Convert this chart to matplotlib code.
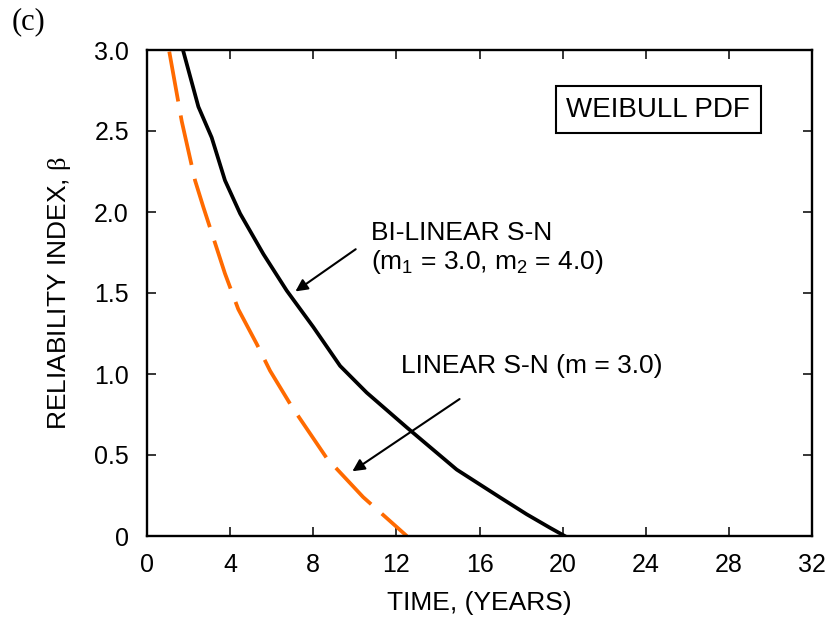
import numpy as np
import matplotlib
matplotlib.use("Agg")
from matplotlib import pyplot as plt

plt.rcParams['font.family'] = ['Liberation Sans', 'DejaVu Sans']
plt.rcParams['mathtext.fontset'] = 'custom'
plt.rcParams['mathtext.rm'] = 'Liberation Sans'
plt.rcParams['mathtext.it'] = 'Liberation Sans:italic'
plt.rcParams['mathtext.sf'] = 'Liberation Serif'

# --- data ---
bilinear_t = [1.75, 2.47, 3.11, 3.75, 4.48, 5.6, 6.72, 8.0, 9.29, 10.57, 12.5, 14.9, 17.0, 18.27, 19.4, 20.1]
bilinear_beta = [2.99, 2.65, 2.46, 2.195, 1.99, 1.74, 1.515, 1.29, 1.05, 0.885, 0.67, 0.41, 0.237, 0.134, 0.05, 0.0]

linear_t = [1.07, 1.67, 2.31, 2.71, 3.75, 4.39, 5.28, 5.92, 6.96, 8.65, 10.4, 12.5]
linear_beta = [2.99, 2.56, 2.195, 2.03, 1.62, 1.40, 1.185, 1.02, 0.80, 0.48, 0.24, 0.0]

x_ticks = [0, 4, 8, 12, 16, 20, 24, 28, 32]
y_ticks = [0, 0.5, 1.0, 1.5, 2.0, 2.5, 3.0]
y_labels = ["0", "0.5", "1.0", "1.5", "2.0", "2.5", "3.0"]

fig = plt.figure(figsize=(8.27, 6.25), dpi=100)
ax = fig.add_axes([0.1778, 0.1424, 0.8041, 0.7776])

ax.plot(bilinear_t, bilinear_beta, color='black', lw=2.7, solid_joinstyle='round')
ax.plot(linear_t, linear_beta, color='#ff6a00', lw=2.7, dashes=(13.5, 3.8))

ax.set_xlim(0, 32)
ax.set_ylim(0, 3.0)
ax.set_xticks(x_ticks)
ax.set_yticks(y_ticks)
ax.set_yticklabels(y_labels)
ax.tick_params(direction='in', length=6.5, width=1.1, top=True, right=True,
               labelsize=18)
ax.tick_params(axis='x', pad=12)
ax.tick_params(axis='y', pad=13)
for s in ax.spines.values():
    s.set_linewidth(1.7)

ax.set_xlabel("TIME, (YEARS)", fontsize=19)
ax.set_ylabel(r"RELIABILITY INDEX, $\mathsf{\beta}$", fontsize=19)
ax.xaxis.set_label_coords(0.5, -0.113)
ax.yaxis.set_label_coords(-0.112, 0.5)

# WEIBULL PDF box
ax.text(24.6, 2.63, "WEIBULL PDF", fontsize=20, ha='center', va='center',
        bbox=dict(boxstyle='square,pad=0.38', fc='white', ec='black', lw=1.5))

# annotations
ax.text(10.8, 1.87, "BI-LINEAR S-N", fontsize=19, ha='left', va='center')
ax.text(10.8, 1.69, r"(m$_1$ = 3.0, m$_2$ = 4.0)", fontsize=19, ha='left', va='center')
ax.annotate("", xy=(7.03, 1.50), xytext=(10.15, 1.78),
            arrowprops=dict(arrowstyle='-|>', color='black', lw=1.5, mutation_scale=18))

ax.text(12.2, 1.05, "LINEAR S-N (m = 3.0)", fontsize=19, ha='left', va='center')
ax.annotate("", xy=(9.77, 0.39), xytext=(15.15, 0.855),
            arrowprops=dict(arrowstyle='-|>', color='black', lw=1.5, mutation_scale=18))

fig.text(0.0145, 0.966, "(c)", fontsize=22, family='Liberation Serif', ha='left', va='center')

fig.savefig("out.png", dpi=100)
